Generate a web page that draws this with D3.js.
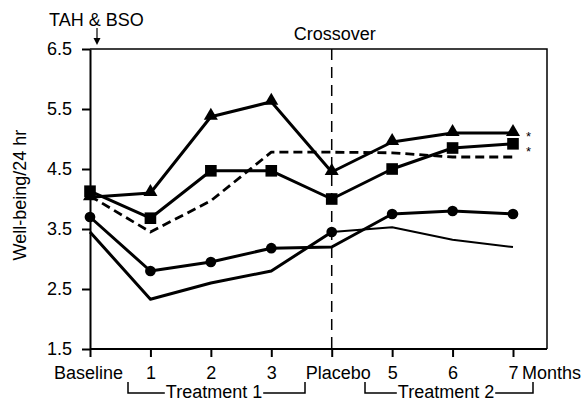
<!DOCTYPE html>
<html>
<head>
<meta charset="utf-8">
<script src="https://cdn.jsdelivr.net/npm/d3@7"></script>
<style>
  body { margin: 0; background: #fff; }
  svg { display: block; font-family: "Liberation Sans", Arial, sans-serif; }
</style>
</head>
<body>
<svg id="chart" width="584" height="402"></svg>
<script>
// ---- data ----
const categories = ["Baseline", "1", "2", "3", "Placebo", "5", "6", "7"];
const yTicks = [1.5, 2.5, 3.5, 4.5, 5.5, 6.5];
const triangleValues = [4.03, 4.1, 5.37, 5.62, 4.45, 4.95, 5.1, 5.1];
const squareValues   = [4.13, 3.68, 4.47, 4.47, 4.0, 4.5, 4.85, 4.92];
const dashedValues   = [4.05, 3.45, 3.97, 4.78, 4.78, 4.77, 4.7, 4.7];
const circleValues   = [3.7, 2.8, 2.95, 3.18, 3.2, 3.75, 3.8, 3.75];
const plainValues    = [3.45, 2.33, 2.6, 2.8, 3.45, 3.53, 3.32, 3.2];
const circleMarkerIdx = [0, 1, 2, 3, 5, 6, 7];
const plainMarkerIdx  = [4];

// ---- layout ----
const svg = d3.select("#chart");
const pL = 90, pR = 547, pT = 49, pB = 349;
const x = d3.scalePoint().domain(categories).range([pL, 513]);
const y = d3.scaleLinear().domain([1.5, 6.5]).range([pB, pT]);
const FONT = 18;
const FF = "Liberation Sans, Arial, sans-serif";

// frame (top & right)
svg.append("path")
  .attr("d", `M${pL},${pT}H${pR}V${pB}`)
  .attr("fill", "none").attr("stroke", "#000").attr("stroke-width", 1.5);

// axes
const xAxis = svg.append("g").attr("transform", `translate(0,${pB})`)
  .call(d3.axisBottom(x).tickSize(8).tickSizeOuter(0).tickPadding(9));
xAxis.select(".domain").attr("d", `M${pL},0H${pR}`).attr("stroke-width", 2);
xAxis.selectAll(".tick line").attr("stroke-width", 2);
xAxis.selectAll(".tick text").attr("font-size", FONT).attr("font-family", FF).attr("fill", "#000")
  .attr("dx", d => d === "Placebo" ? 6 : (d === "Baseline" ? -2 : 0));

const yAxis = svg.append("g").attr("transform", `translate(${pL},0)`)
  .call(d3.axisLeft(y).tickValues(yTicks).tickFormat(d3.format(".1f")).tickSize(8).tickSizeOuter(0).tickPadding(10));
yAxis.select(".domain").attr("stroke-width", 2);
yAxis.selectAll(".tick line").attr("stroke-width", 2);
yAxis.selectAll(".tick text").attr("font-size", FONT).attr("font-family", FF).attr("fill", "#000");

// "Months" label after the last tick
svg.append("text").attr("x", x("7") + 9).attr("y", pB + 30)
  .attr("font-size", FONT).text("Months");

// y title
svg.append("text").attr("transform", `translate(26,195) rotate(-90)`)
  .attr("text-anchor", "middle").attr("font-size", FONT).text("Well-being/24 hr");

// Crossover vertical line
svg.append("line").attr("x1", x("Placebo")).attr("x2", x("Placebo"))
  .attr("y1", pT).attr("y2", pB)
  .attr("stroke", "#000").attr("stroke-width", 1.5).attr("stroke-dasharray", "11,7");
svg.append("text").attr("x", x("Placebo") + 3).attr("y", 39.5)
  .attr("text-anchor", "middle").attr("font-size", FONT).text("Crossover");

// TAH & BSO
svg.append("text").attr("x", 49).attr("y", 26).attr("font-size", FONT).text("TAH & BSO");
svg.append("line").attr("x1", 97).attr("x2", 97).attr("y1", 28).attr("y2", 40)
  .attr("stroke", "#000").attr("stroke-width", 1.2);
svg.append("path").attr("d", "M93.5,38L97,45L100.5,38Z").attr("fill", "#000");

// lines
const line = d3.line().x((d, i) => x(categories[i])).y(d => y(d));
function drawLine(vals, width, dash) {
  svg.append("path").datum(vals).attr("d", line)
    .attr("fill", "none").attr("stroke", "#000").attr("stroke-width", width)
    .attr("stroke-linejoin", "round")
    .attr("stroke-dasharray", dash || null);
}
drawLine(dashedValues, 2.8, "9,5");
drawLine(triangleValues, 3);
drawLine(squareValues, 3);
drawLine(circleValues, 3);
// plain line: thick up to Placebo, thinner afterwards
const plainPts = plainValues.map((v, i) => [x(categories[i]), y(v)]);
svg.append("path").attr("d", d3.line()(plainPts.slice(0, 5)))
  .attr("fill", "none").attr("stroke", "#000").attr("stroke-width", 3).attr("stroke-linejoin", "round");
svg.append("path").attr("d", d3.line()(plainPts.slice(4)))
  .attr("fill", "none").attr("stroke", "#000").attr("stroke-width", 2).attr("stroke-linejoin", "round");

// markers
function markers(vals, idx, type, size, dy) {
  svg.append("g").selectAll("path").data(idx).join("path")
    .attr("transform", i => `translate(${x(categories[i])},${y(vals[i]) + (dy || 0)})`)
    .attr("d", d3.symbol().type(type).size(size)).attr("fill", "#000");
}
markers(triangleValues, d3.range(categories.length), d3.symbolTriangle, 85, -1);
markers(squareValues, d3.range(categories.length), d3.symbolSquare, 135);
markers(circleValues, circleMarkerIdx, d3.symbolCircle, 90);
markers(plainValues, plainMarkerIdx, d3.symbolCircle, 90);

// asterisks (significance)
const lastIdx = categories.length - 1;
const AST = 13;
svg.append("text").attr("font-size", AST)
  .attr("x", x(categories[lastIdx]) + 13).attr("y", y(triangleValues[lastIdx]) + 1 + 0.575 * AST).text("*");
svg.append("text").attr("font-size", AST)
  .attr("x", x(categories[lastIdx]) + 13).attr("y", y(squareValues[lastIdx]) + 5 + 0.575 * AST).text("*");

// treatment brackets
function bracket(x1, x2, label, cx) {
  const yTop = 382, yB = 393;
  const g = svg.append("g");
  const t = g.append("text").attr("x", cx).attr("y", 397.5).attr("text-anchor", "middle")
    .attr("font-size", FONT).text(label);
  const w = t.node().getComputedTextLength();
  g.append("path").attr("d", `M${x1},${yTop}V${yB}H${cx - w / 2 - 1}M${cx + w / 2 + 1},${yB}H${x2}V${yTop}`)
    .attr("fill", "none").attr("stroke", "#000").attr("stroke-width", 1.5);
}
bracket(128, 305, "Treatment 1", 214);
bracket(365, 533, "Treatment 2", 446);
</script>
</body>
</html>
